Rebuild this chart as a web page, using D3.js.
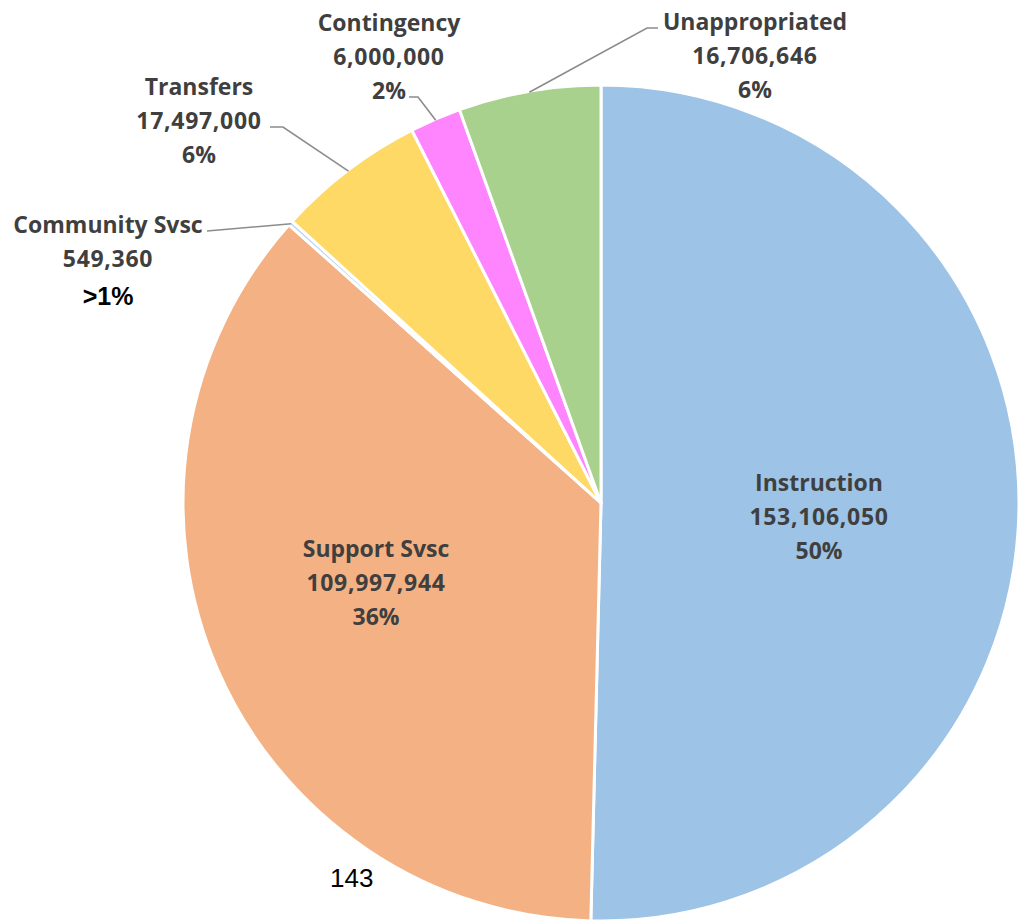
<!DOCTYPE html>
<html>
<head>
<meta charset="utf-8">
<script src="https://cdn.jsdelivr.net/npm/d3@7"></script>
<style>
  html, body { margin: 0; padding: 0; background: #ffffff; }
  svg { display: block; }
</style>
</head>
<body>
<svg id="chart" width="1029" height="922"></svg>
<script>
// Budget appropriations by function
const categories = ["Instruction", "Support Svsc", "Community Svsc", "Transfers", "Contingency", "Unappropriated"];
const amounts = [153106050, 109997944, 549360, 17497000, 6000000, 16706646];
const percentLabels = ["50%", "36%", ">1%", "6%", "2%", "6%"];
const sliceColors = ["#9DC3E6", "#F4B183", "#BDD7EE", "#FFD966", "#FF85FF", "#A9D18E"];
const pageNumber = "143";

// Label layout: anchor = centre x and baseline of the middle line
const labelLayout = {
  "Instruction":    { x: 819, y: 525, inside: true },
  "Support Svsc":   { x: 376, y: 591, inside: true },
  "Community Svsc": { x: 108, y: 267, leader: [[207, 231]] },
  "Transfers":      { x: 199, y: 129, leader: [[270, 127], [283, 127]] },
  "Contingency":    { x: 389, y: 65,  leader: [[409, 97], [418, 97]] },
  "Unappropriated": { x: 755, y: 64,  leader: [[658, 28], [647, 28]] }
};

const svg = d3.select("#chart");
const cx = 601, cy = 503, radius = 418;
const lineGap = 34;

const pie = d3.pie().sort(null).value(d => d.value);
const arcs = pie(categories.map((c, i) => ({ name: c, value: amounts[i], pct: percentLabels[i], color: sliceColors[i] })));

const arc = d3.arc().innerRadius(0).outerRadius(radius);
const edgeArc = d3.arc().innerRadius(radius - 1).outerRadius(radius - 1);

const g = svg.append("g").attr("transform", `translate(${cx},${cy})`);

g.selectAll("path.slice")
  .data(arcs)
  .join("path")
  .attr("class", "slice")
  .attr("d", arc)
  .attr("fill", d => d.data.color)
  .attr("stroke", "#ffffff")
  .attr("stroke-width", 3)
  .attr("stroke-linejoin", "round");

const fmt = d3.format(",");
const labelFont = "'Open Sans', 'DejaVu Sans', sans-serif";

// Leader lines from outside labels to slice edges
arcs.forEach(d => {
  const lay = labelLayout[d.data.name];
  if (!lay.leader) return;
  const [ex, ey] = edgeArc.centroid(d);
  const pts = lay.leader.concat([[ex + cx, ey + cy]]);
  svg.append("path")
    .attr("d", d3.line()(pts))
    .attr("fill", "none")
    .attr("stroke", "#8C8C8C")
    .attr("stroke-width", 1.6);
});

// Data labels: name, value, percent
arcs.forEach(d => {
  const lay = labelLayout[d.data.name];
  const grp = svg.append("g").attr("text-anchor", "middle");
  const lines = [d.data.name, fmt(d.data.value)];
  lines.forEach((t, i) => {
    grp.append("text")
      .attr("x", lay.x)
      .attr("y", lay.y + (i - 1) * lineGap)
      .attr("font-family", labelFont)
      .attr("font-weight", 700)
      .attr("font-size", 23)
      .attr("letter-spacing", i === 1 ? 0.7 : 0)
      .attr("fill", "#3F3F3F")
      .text(t);
  });
  const special = d.data.pct.startsWith(">");
  grp.append("text")
    .attr("x", lay.x)
    .attr("y", lay.y + lineGap + (special ? 4 : 0))
    .attr("font-family", special ? "'Liberation Sans', Arial, sans-serif" : labelFont)
    .attr("font-weight", 700)
    .attr("font-size", special ? 25 : 23)
    .attr("fill", special ? "#000000" : "#3F3F3F")
    .text(d.data.pct);
});

// Page number
svg.append("text")
  .attr("x", 330)
  .attr("y", 887)
  .attr("font-family", "'Liberation Sans', Arial, sans-serif")
  .attr("font-size", 26)
  .attr("fill", "#000000")
  .text(pageNumber);
</script>
</body>
</html>
